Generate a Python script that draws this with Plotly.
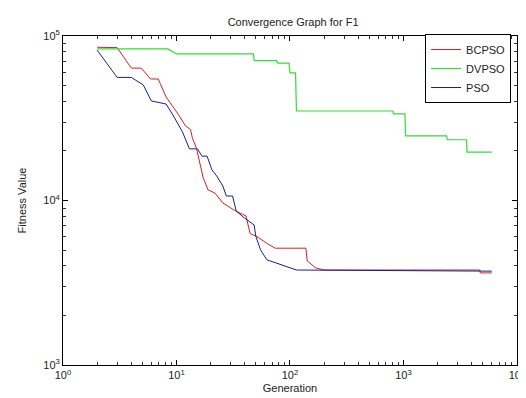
import plotly.graph_objects as go

gen_bcpso = [2, 3, 4, 4.9, 5.9, 6.9, 8.1, 10.5, 12, 13.3, 13.8, 15, 17.2, 19, 21.8, 25.6, 32.4, 41, 44.5, 51, 62.6, 74, 138, 142, 169, 200, 4700, 4750, 6000]
fit_bcpso = [85400, 85000, 63800, 63800, 54800, 54800, 42600, 33000, 28400, 27000, 24000, 20800, 13700, 11600, 11100, 9670, 8720, 8050, 6300, 6040, 5490, 5130, 5130, 4290, 3890, 3780, 3780, 3630, 3630]

gen_dvpso = [2, 8.4, 10, 47.5, 48.5, 76, 78, 98, 100, 112, 114, 806, 815, 1030, 1045, 2400, 2430, 3600, 3630, 6000]
fit_dvpso = [83400, 83400, 77800, 77800, 70800, 70800, 68500, 68500, 59600, 59600, 35000, 35000, 33600, 33600, 24700, 24700, 23400, 23400, 19700, 19700]

gen_pso = [2, 3, 4, 5.1, 6, 8.1, 9.3, 11.3, 13, 15.3, 16.8, 18.6, 20.5, 22.6, 25.6, 27.5, 31.2, 33.6, 39.6, 48.3, 50, 55, 62.6, 82, 114, 6000]
fit_pso = [82000, 56000, 56000, 50400, 40300, 38600, 33100, 26100, 20600, 20600, 18600, 18600, 15400, 14100, 12250, 10650, 10650, 8630, 7840, 7100, 6080, 5010, 4360, 4070, 3780, 3720]

x_tickvals = [1, 10, 100, 1000, 10000]
x_ticktext = ["10<sup>0</sup>", "10<sup>1</sup>", "10<sup>2</sup>", "10<sup>3</sup>", "10<sup>4</sup>"]
y_tickvals = [1000, 10000, 100000]
y_ticktext = ["10<sup>3</sup>", "10<sup>4</sup>", "10<sup>5</sup>"]

x_minor = [m * 10 ** d for d in range(0, 4) for m in range(2, 10)]
y_minor = [m * 10 ** d for d in range(3, 5) for m in range(2, 10)]

fig = go.Figure()
fig.add_trace(go.Scatter(x=gen_bcpso, y=fit_bcpso, mode="lines", name="BCPSO",
                         line=dict(color="#d42020", width=1)))
fig.add_trace(go.Scatter(x=gen_dvpso, y=fit_dvpso, mode="lines", name="DVPSO",
                         line=dict(color="#33dd33", width=1.2)))
fig.add_trace(go.Scatter(x=gen_pso, y=fit_pso, mode="lines", name="PSO",
                         line=dict(color="#1c1c8c", width=1)))
# invisible carrier trace for the minor-tick overlay axes
fig.add_trace(go.Scatter(x=gen_pso, y=fit_pso, mode="lines", xaxis="x2", yaxis="y2",
                         line=dict(color="rgba(0,0,0,0)", width=0), showlegend=False,
                         hoverinfo="skip"))

font = "Liberation Sans, Arial, sans-serif"
tcol = "#222"
axis_common = dict(type="log", showgrid=False, zeroline=False, showline=True,
                   linecolor="black", linewidth=1, mirror="ticks", ticks="inside",
                   ticklen=5, tickwidth=1, tickcolor="black", tickmode="array",
                   ticklabeloverflow="allow",
                   tickfont=dict(family=font, size=11, color=tcol))
minor_common = dict(type="log", showgrid=False, zeroline=False, showline=False,
                    mirror="allticks", ticks="inside",
                    ticklen=3, tickwidth=1, tickcolor="#333", tickmode="array", showticklabels=False)

x_range = [0, 4.0005]
y_range = [3, 5]

fig.update_layout(
    width=526, height=398,
    margin=dict(l=55, r=8, t=28, b=41),
    paper_bgcolor="white", plot_bgcolor="white",
    title=dict(text="Convergence Graph for F1", x=0.542, xanchor="center", y=0.965, yanchor="middle",
               font=dict(family=font, size=11, color=tcol)),
    xaxis=dict(axis_common, range=x_range, tickvals=x_tickvals, ticktext=x_ticktext,
               title=dict(text="Generation", font=dict(family=font, size=11, color=tcol), standoff=4)),
    yaxis=dict(axis_common, range=y_range, tickvals=y_tickvals, ticktext=y_ticktext,
               title=dict(text="Fitness Value", font=dict(family=font, size=11, color=tcol), standoff=14)),
    xaxis2=dict(minor_common, range=x_range, tickvals=x_minor, overlaying="x", anchor="y", side="bottom"),
    yaxis2=dict(minor_common, range=y_range, tickvals=y_minor, overlaying="y", anchor="x", side="left"),
    legend=dict(x=0.987, xanchor="right", y=1.006, yanchor="top",
                bordercolor="black", borderwidth=1, bgcolor="white",
                font=dict(family=font, size=11, color=tcol),
                tracegroupgap=0, itemwidth=30),
    showlegend=True,
)

fig.write_html("out.html")
